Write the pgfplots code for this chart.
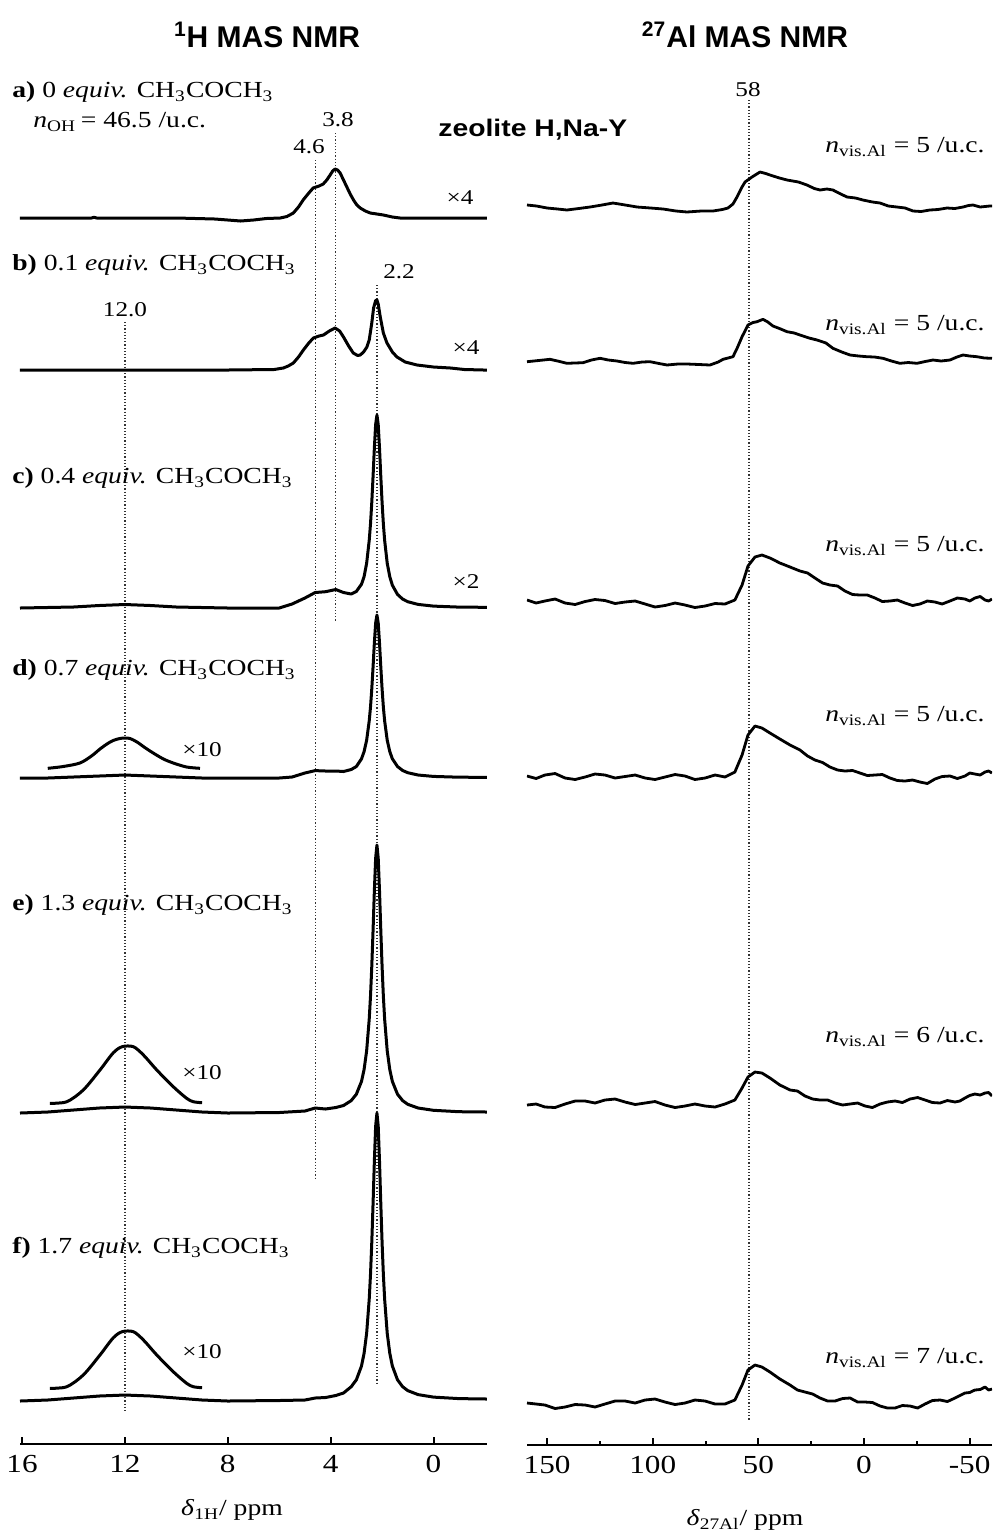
\documentclass[border=0pt]{standalone}
\usepackage{pgfplots}
\pgfplotsset{compat=1.18}
\usepackage{graphicx}
\usepackage{fontspec}
\setmainfont{Liberation Serif}
\newfontfamily\arial{Liberation Sans}
\newcommand{\hs}[1]{\scalebox{1.2}[1]{#1}}
\newcommand{\lf}{\fontsize{11.5}{13}\selectfont}
\newcommand{\pf}{\fontsize{10.5}{12}\selectfont}
\begin{document}
\begin{tikzpicture}
\useasboundingbox (0,0) rectangle (497pt,-766.5pt);
\pgfplotsset{spec/.style={black, line width=1.5pt, line join=round},
  ref/.style={black!80, densely dotted, line width=0.6pt},
  al/.style={black, line width=1.4pt, line join=round}}
% ---------------- 1H MAS NMR -----------------
\begin{axis}[
 at={(10pt,-722pt)}, anchor=south west, scale only axis,
 width=233.5pt, height=702pt,
 xmin=-2.08, xmax=16.08, x dir=reverse,
 ymin=-1444, ymax=-40,
 every non boxed x axis/.style={},
 axis x line=bottom, axis y line=none,
 x axis line style={-, line width=1.3pt},
 xtick={16,12,8,4,0}, xticklabels={\hs{16},\hs{12},\hs{8},\hs{4},\hs{0}},
 xtick align=inside, major tick length=3.5pt,
 tick style={line width=1pt,black},
 ticklabel style={font=\fontsize{13}{15}\selectfont, yshift=-2pt},
]
% reference lines
\addplot[ref] coordinates {(12,-322) (12,-1412)};
\addplot[ref] coordinates {(4.6,-160) (4.6,-1180)};
\addplot[ref] coordinates {(3.8,-133) (3.8,-622)};
\addplot[ref] coordinates {(2.2,-285) (2.2,-1385)};
% a)
\addplot[spec] coordinates {(16.08,-218) (14,-218) (13.3,-218) (13.2,-217.3) (13.1,-218) (10,-218) (8.5,-219) (7.5,-221) (7.0,-220) (6.5,-218.5) (5.96,-218) (5.7,-216.5) (5.45,-213) (5.25,-207) (5.07,-200) (4.85,-193) (4.68,-188) (4.45,-186) (4.29,-184) (4.15,-180) (4.02,-175) (3.92,-171) (3.83,-169) (3.73,-170) (3.63,-173) (3.5,-180) (3.37,-187) (3.24,-194) (3.11,-200) (2.98,-205) (2.85,-208) (2.65,-211) (2.46,-213) (2.2,-214) (1.95,-215) (1.6,-217) (1.3,-218) (0,-218) (-2.08,-218)};
% b)
\addplot[spec] coordinates {(16.08,-370) (12,-370) (8,-370) (6.2,-369.5) (5.84,-368) (5.65,-366) (5.45,-363) (5.25,-357) (5.06,-350) (4.85,-343) (4.67,-338) (4.45,-336) (4.28,-335) (4.05,-331) (3.83,-328) (3.65,-331) (3.5,-337) (3.3,-346) (3.12,-353) (2.95,-355.5) (2.85,-355) (2.72,-352) (2.59,-347) (2.5,-340) (2.4,-323) (2.33,-308) (2.25,-300.5) (2.2,-300) (2.15,-304) (2.07,-317) (1.95,-333) (1.81,-343) (1.6,-352) (1.42,-357) (1.1,-362) (0.64,-365) (0,-367) (-0.66,-368) (-1.2,-369.5) (-1.95,-370) (-2.08,-370)};
% c)
\addplot[spec] coordinates {(16.08,-608) (14,-607) (13,-605.5) (12,-604.5) (11,-605.5) (10,-607) (8,-608) (6,-608) (5.5,-604) (5.0,-598) (4.6,-592.5) (4.2,-591.7) (3.8,-589.5) (3.5,-592.5) (3.2,-594) (3.0,-591.4) (2.8,-584.2) (2.7,-576.7) (2.6,-563.2) (2.5,-540.4) (2.45,-523.9) (2.4,-502.2) (2.35,-476.2) (2.3,-448) (2.25,-424.5) (2.2,-415) (2.15,-424.5) (2.1,-448) (2.05,-476.2) (2.0,-502.2) (1.95,-523.9) (1.9,-540.4) (1.8,-563.2) (1.7,-576.7) (1.6,-585.2) (1.4,-594.4) (1.2,-599.1) (1.0,-601.7) (0.6,-604.4) (0,-606.1) (-1,-607.1) (-2.08,-607.3)};
% d)
\addplot[spec] coordinates {(16.08,-778) (15,-778) (14,-777) (13,-776) (12,-775) (11,-776) (10,-777) (9,-778) (6,-778) (5.5,-777) (5.0,-773) (4.6,-770.6) (4.2,-771) (3.8,-771) (3.5,-771.5) (3.2,-769.5) (3.0,-766.5) (2.8,-758.8) (2.7,-751.6) (2.6,-740.2) (2.5,-720.9) (2.45,-707.1) (2.4,-688.7) (2.35,-666.7) (2.3,-642.9) (2.25,-623) (2.2,-615) (2.15,-623) (2.1,-642.9) (2.05,-666.7) (2.0,-688.7) (1.95,-707.1) (1.9,-720.9) (1.8,-740.2) (1.7,-751.6) (1.6,-758.8) (1.4,-766.5) (1.2,-770.5) (1.0,-772.7) (0.6,-775) (0,-776.4) (-1,-777.2) (-2.08,-777.3)};
\addplot[spec, smooth] coordinates {(15.0,-768.3) (14.4,-766.5) (13.75,-763) (13.3,-756) (12.97,-749) (12.7,-744) (12.46,-740.5) (12.2,-738.5) (12.0,-738) (11.8,-738.5) (11.53,-742) (11.2,-748) (10.9,-753) (10.5,-759) (10.12,-763) (9.6,-767) (9.08,-768.3)};
% e)
\addplot[spec] coordinates {(16.08,-1113) (15,-1112) (14,-1110) (13,-1108) (12,-1107) (11,-1108) (10,-1110) (9,-1112) (8,-1113) (6,-1112.5) (5.0,-1111) (4.6,-1108) (4.2,-1109) (3.8,-1107.5) (3.5,-1105.5) (3.2,-1100.6) (3.0,-1094.2) (2.8,-1081.4) (2.7,-1069.6) (2.6,-1050.8) (2.5,-1019.2) (2.45,-996.2) (2.4,-966.1) (2.35,-930) (2.3,-890.8) (2.25,-858.1) (2.2,-845) (2.15,-858.1) (2.1,-890.8) (2.05,-930) (2.0,-966.1) (1.95,-996.2) (1.9,-1019.2) (1.8,-1050.8) (1.7,-1069.6) (1.6,-1081.4) (1.4,-1094.2) (1.2,-1100.6) (1.0,-1104.3) (0.6,-1108) (0,-1110.3) (-1,-1111.7) (-2.08,-1112)};
\addplot[spec, smooth] coordinates {(14.92,-1103.3) (14.26,-1101.7) (13.62,-1090) (12.97,-1070) (12.46,-1053) (12.11,-1046.7) (11.67,-1046.7) (11.28,-1055) (10.76,-1070) (10.12,-1086.7) (9.6,-1098.3) (9.34,-1101.7) (9.0,-1102.7)};
% f)
\addplot[spec] coordinates {(16.08,-1401) (15,-1400) (14,-1398) (13,-1396) (12,-1395) (11,-1396) (10,-1398) (9,-1400) (8,-1401) (6,-1400.5) (5.0,-1400) (4.6,-1398) (4.2,-1397.5) (3.8,-1395.5) (3.5,-1393) (3.2,-1386.7) (3.0,-1379.8) (2.8,-1366) (2.7,-1353.3) (2.6,-1333.2) (2.5,-1299.2) (2.45,-1274.4) (2.4,-1242.2) (2.35,-1203.3) (2.3,-1161.2) (2.25,-1126.1) (2.2,-1113) (2.15,-1126.1) (2.1,-1161.2) (2.05,-1203.3) (2.0,-1242.2) (1.95,-1274.4) (1.9,-1299.2) (1.8,-1333.2) (1.7,-1353.3) (1.6,-1366) (1.4,-1379.8) (1.2,-1386.7) (1.0,-1390.6) (0.6,-1394.6) (0,-1397.1) (-1,-1398.6) (-2.08,-1399)};
\addplot[spec, smooth] coordinates {(14.92,-1388.3) (14.26,-1386.7) (13.62,-1375) (12.97,-1355) (12.46,-1338) (12.11,-1331.7) (11.67,-1331.7) (11.28,-1340) (10.76,-1355) (10.12,-1371.7) (9.6,-1383.3) (9.34,-1386.7) (9.0,-1387.7)};
\end{axis}
% ---------------- 27Al MAS NMR -----------------
\begin{axis}[
 at={(263.5pt,-722.5pt)}, anchor=south west, scale only axis,
 width=232.5pt, height=702.5pt,
 xmin=-60.6, xmax=159.5, x dir=reverse,
 ymin=-1445, ymax=-40,
 every non boxed x axis/.style={},
 axis x line=bottom, axis y line=none,
 x axis line style={-, line width=1.3pt},
 xtick={150,100,50,0,-50}, xticklabels={\hs{150},\hs{100},\hs{50},\hs{0},\hs{-50}},
 minor xtick={125,75,25,-25},
 xtick align=inside, major tick length=3.5pt, minor tick length=2pt,
 tick style={line width=1pt,black},
 ticklabel style={font=\fontsize{13}{15}\selectfont, yshift=-2pt},
]
\addplot[ref] coordinates {(54.4,-100) (54.4,-1420)};
% a)
\addplot[al] coordinates {(159.5,-205) (155,-206) (150,-208) (145,-209) (140.6,-210) (135,-208.5) (129.7,-207) (124,-205) (118.8,-203) (113,-205) (107.4,-207) (101,-208) (95.1,-209) (89,-211) (83.8,-212) (77,-211) (71.5,-211) (67,-209.5) (64.4,-208) (62,-204) (60.1,-197) (58,-188) (56.3,-182) (53,-177) (49.2,-172) (46.5,-173.5) (44.5,-175) (40,-178) (36.4,-180) (31,-182) (27,-185) (23.5,-188.5) (20.8,-190) (17.5,-189) (14.7,-190) (11,-194) (8,-197) (4,-198) (0.5,-200) (-4,-202) (-7.6,-203) (-11.5,-206) (-15.6,-207) (-19.5,-208) (-23.2,-211) (-27,-211.5) (-31.2,-210) (-35,-209.5) (-39.3,-208) (-43,-208.5) (-46.9,-207) (-49.5,-205.5) (-51.6,-205) (-55,-207) (-59.6,-206) (-60.6,-206)};
% b)
\addplot[al] coordinates {(159.5,-361.7) (154,-360.5) (148.6,-359.3) (144,-361.5) (140.6,-363.3) (137,-363) (133,-362.7) (129,-360) (124.9,-358.3) (121,-360) (116.9,-361) (113,-362.5) (109.3,-363.3) (105,-362) (101.3,-361.7) (97,-363.5) (93.2,-365) (88,-364) (83.8,-364) (78,-364.5) (72.9,-365) (69,-362) (66.7,-359.3) (62,-356.7) (60,-348) (57.7,-336.7) (54.9,-325) (52.5,-322.5) (50.6,-321.7) (47.8,-319.3) (45.5,-322) (43.1,-326) (40,-328.5) (36.4,-331.7) (33,-333) (30.3,-335) (26,-338) (22.2,-340) (18,-343) (14.7,-348.3) (10.5,-352) (6.6,-355) (2.5,-356) (-1.4,-356.7) (-5,-357) (-9,-358.3) (-13,-361) (-17,-363.3) (-21,-362.5) (-25.1,-363.3) (-29,-361.5) (-32.7,-360) (-36.5,-361) (-40.7,-360) (-44,-357) (-46.9,-355) (-50,-356) (-53.5,-356.7) (-57,-358) (-60.6,-358.3)};
% c)
\addplot[al] coordinates {(159.5,-600) (155.2,-603) (151.0,-601) (146.2,-599) (141.5,-603) (136.7,-604.5) (132.0,-601.5) (127.3,-599.5) (122.6,-600.5) (117.8,-603.5) (113.1,-602) (108.3,-601) (103.6,-604) (98.9,-607) (94.2,-605.5) (89.4,-603) (84.7,-605) (80,-607.5) (75.2,-606) (70.5,-603.5) (65.8,-604) (61.1,-600) (57.7,-585) (54.9,-566) (51.6,-557) (48.3,-555) (44.5,-558) (39.8,-563) (35.0,-567) (30.3,-571) (26.7,-573) (23.2,-578) (19.6,-583) (16.1,-585) (12.5,-586) (9.0,-591) (5.4,-594.5) (1.9,-595) (-1.6,-595) (-5.2,-598) (-8.7,-601.5) (-12.3,-601) (-15.8,-600) (-19.4,-603) (-23,-605.5) (-26.5,-604) (-30,-601) (-33.6,-602) (-37,-604) (-40.7,-601) (-44.2,-598) (-47.8,-599) (-50.1,-601) (-52.5,-598) (-55,-596.5) (-57.3,-600) (-59,-601) (-60.6,-599)};
% d)
\addplot[al] coordinates {(159.5,-776) (155.2,-778.5) (151.0,-775) (146.2,-773.5) (141.5,-778) (136.7,-779.5) (132.0,-777) (127.3,-774) (122.6,-775) (117.8,-778) (113.1,-776.5) (108.3,-775) (103.6,-778) (98.9,-779.5) (94.2,-777) (89.4,-774.5) (84.7,-776) (80,-779.5) (75.2,-778) (70.5,-775) (65.8,-777) (61.1,-772) (57.7,-755) (54.9,-735) (51.6,-726) (48.3,-728) (44.5,-733) (39.8,-739) (35.0,-745) (30.3,-750) (26.7,-756) (23.2,-760) (19.6,-762.5) (16.1,-767) (12.5,-770) (9.0,-771) (5.4,-770.5) (1.9,-773) (-1.6,-775.5) (-5.2,-775) (-8.7,-774.5) (-12.3,-778) (-15.8,-780.5) (-19.4,-781) (-23,-780) (-26.5,-782) (-30,-783.5) (-33.6,-779) (-37,-776.5) (-40.7,-776) (-44.2,-778.5) (-47.8,-776) (-50.1,-773) (-52.5,-774) (-55,-775) (-57.3,-772) (-59,-771) (-60.6,-773)};
% e)
\addplot[al] coordinates {(159.5,-1105) (155.2,-1104) (151.0,-1107) (146.2,-1107.5) (141.5,-1104) (136.7,-1101) (132.0,-1101) (127.3,-1103) (122.6,-1100) (117.8,-1099) (113.1,-1102) (108.3,-1104.5) (103.6,-1103) (98.9,-1101.5) (94.2,-1105) (89.4,-1107.5) (84.7,-1106) (80,-1104) (75.2,-1106) (70.5,-1107) (65.8,-1104) (61.1,-1100) (57.7,-1088) (54.9,-1077) (51.6,-1072) (48.3,-1073) (44.5,-1078) (39.8,-1085) (35.0,-1090) (31.5,-1091) (27.9,-1096) (24.3,-1099) (20.8,-1100) (17.2,-1100) (13.7,-1103) (10.1,-1105) (6.6,-1104) (3,-1103) (-0.5,-1106) (-4,-1107.5) (-7.6,-1104) (-11.1,-1102) (-14.7,-1101) (-18.2,-1102.5) (-21.8,-1099) (-25.4,-1097.5) (-28.9,-1100) (-32.4,-1102.5) (-36.0,-1103) (-39.5,-1100.5) (-43.1,-1102) (-45.4,-1101) (-47.8,-1098) (-50,-1095.5) (-52.5,-1094) (-55,-1095) (-57.3,-1093) (-59,-1092.5) (-60.6,-1096)};
% f)
\addplot[al] coordinates {(159.5,-1403) (155.2,-1404) (151.0,-1405) (146.2,-1408.5) (141.5,-1407) (136.7,-1404.5) (132.0,-1405) (127.3,-1407) (122.6,-1404) (117.8,-1401) (113.1,-1401) (108.3,-1403) (103.6,-1400) (98.9,-1399) (94.2,-1402) (89.4,-1404.5) (84.7,-1403) (80,-1400) (75.2,-1401) (70.5,-1404) (65.8,-1404) (61.1,-1400) (57.7,-1385) (54.9,-1370) (51.6,-1365) (48.3,-1367) (44.5,-1372) (39.8,-1379) (35.0,-1385) (31.5,-1390) (27.9,-1392) (24.3,-1394) (20.8,-1398) (17.2,-1401) (13.7,-1401) (10.1,-1398.5) (6.6,-1398) (3,-1402) (-0.5,-1402) (-4,-1402.5) (-7.6,-1406) (-11.1,-1408) (-14.7,-1408) (-18.2,-1405.5) (-21.8,-1406) (-25.4,-1408) (-28.9,-1404) (-32.4,-1400.5) (-36.0,-1400) (-39.5,-1401.5) (-43.1,-1398) (-45.4,-1395.5) (-47.8,-1393) (-50,-1392.5) (-52.5,-1390) (-55,-1389.5) (-57.3,-1387) (-59,-1390) (-60.6,-1389)};
\end{axis}
% ---------------- texts (pixel coordinates) -----------------
\begin{scope}[x=0.5pt,y=-0.5pt]
\node at (267,35) {\arial\bfseries\fontsize{15}{18}\selectfont\textsuperscript{1}H MAS NMR};
\node at (745,35) {\arial\bfseries\fontsize{15}{18}\selectfont\textsuperscript{27}Al MAS NMR};
\node[anchor=west,inner sep=0] at (438,130) {\arial\bfseries\fontsize{12}{14}\selectfont\scalebox{1.18}[1]{zeolite H,Na-Y}};
\node[anchor=west,inner sep=0] at (12,92) {\lf\hs{\textbf{a)} 0 \textit{equiv.} CH\textsubscript{3}COCH\textsubscript{3}}};
\node[anchor=west,inner sep=0] at (33,122) {\lf\hs{\textit{n}\textsubscript{OH}\,= 46.5 /u.c.}};
\node[anchor=west,inner sep=0] at (12,265) {\lf\hs{\textbf{b)} 0.1 \textit{equiv.} CH\textsubscript{3}COCH\textsubscript{3}}};
\node[anchor=west,inner sep=0] at (12,478) {\lf\hs{\textbf{c)} 0.4 \textit{equiv.} CH\textsubscript{3}COCH\textsubscript{3}}};
\node[anchor=west,inner sep=0] at (12,670) {\lf\hs{\textbf{d)} 0.7 \textit{equiv.} CH\textsubscript{3}COCH\textsubscript{3}}};
\node[anchor=west,inner sep=0] at (12,905) {\lf\hs{\textbf{e)} 1.3 \textit{equiv.} CH\textsubscript{3}COCH\textsubscript{3}}};
\node[anchor=west,inner sep=0] at (12,1248) {\lf\hs{\textbf{f)} 1.7 \textit{equiv.} CH\textsubscript{3}COCH\textsubscript{3}}};
\node at (309,147) {\pf\hs{4.6}};
\node at (338,120) {\pf\hs{3.8}};
\node at (399,272) {\pf\hs{2.2}};
\node at (125,310) {\pf\hs{12.0}};
\node at (748,90) {\pf\hs{58}};
\node at (460,198) {\pf\hs{×4}};
\node at (466,348) {\pf\hs{×4}};
\node at (466,582) {\pf\hs{×2}};
\node at (202,750) {\pf\hs{×10}};
\node at (202,1073) {\pf\hs{×10}};
\node at (202,1352) {\pf\hs{×10}};
\node[anchor=east,inner sep=0] at (985,147) {\lf\hs{\textit{n}\textsubscript{vis.Al} = 5 /u.c.}};
\node[anchor=east,inner sep=0] at (985,325) {\lf\hs{\textit{n}\textsubscript{vis.Al} = 5 /u.c.}};
\node[anchor=east,inner sep=0] at (985,546) {\lf\hs{\textit{n}\textsubscript{vis.Al} = 5 /u.c.}};
\node[anchor=east,inner sep=0] at (985,716) {\lf\hs{\textit{n}\textsubscript{vis.Al} = 5 /u.c.}};
\node[anchor=east,inner sep=0] at (985,1037) {\lf\hs{\textit{n}\textsubscript{vis.Al} = 6 /u.c.}};
\node[anchor=east,inner sep=0] at (985,1358) {\lf\hs{\textit{n}\textsubscript{vis.Al} = 7 /u.c.}};
\node at (232,1510) {\lf\hs{\textit{δ}\textsubscript{1H}/ ppm}};
\node at (745,1520) {\lf\hs{\textit{δ}\textsubscript{27Al}/ ppm}};
\end{scope}
\end{tikzpicture}
\end{document}
